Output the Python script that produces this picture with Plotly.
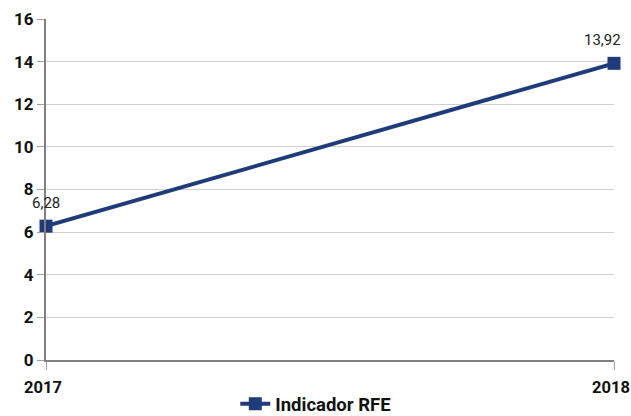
import plotly.graph_objects as go

years = [2017, 2018]
values = [6.28, 13.92]
series_name = "Indicador RFE"
y_ticks = [0, 2, 4, 6, 8, 10, 12, 14, 16]
label_xshift = [0, -12]

color = "#1F3B7A"

fig = go.Figure()
fig.add_trace(go.Scatter(
    x=years, y=values, name=series_name,
    mode="lines+markers",
    line=dict(color=color, width=4),
    marker=dict(symbol="square", size=13, color=color),
    cliponaxis=False,
))

for x, y, dx in zip(years, values, label_xshift):
    fig.add_annotation(
        x=x, y=y, text=f"{y:.2f}".replace(".", ","),
        showarrow=False, yshift=23, xshift=dx,
        font=dict(family="Roboto", size=15, color="#222222"),
    )

tickfont = dict(family="Roboto", size=17, color="#111111", weight="bold")
xtickfont = dict(family="Roboto", size=16.5, color="#111111", weight="bold")

fig.update_layout(
    width=631, height=416,
    margin=dict(l=46, r=17, t=19, b=56, autoexpand=False),
    paper_bgcolor="white", plot_bgcolor="white",
    separators=", ",
    showlegend=True,
    legend=dict(orientation="h", x=0.475, xanchor="center", y=-0.13, yanchor="middle",
                font=dict(family="Roboto", size=18.5, color="#111111", weight="bold")),
    xaxis=dict(
        range=[2017, 2018], tickvals=years, ticktext=[str(y) for y in years],
        showgrid=True, gridcolor="#D0D0D0", gridwidth=1,
        showline=True, linecolor="#808080", linewidth=2,
        ticks="outside", ticklen=8, tickcolor="#A0A0A0",
        tickfont=xtickfont, ticklabelstandoff=3, ticklabeloverflow="allow",
        ticklabelshift=-3,
        zeroline=False, automargin=False,
    ),
    yaxis=dict(
        range=[0, 16], tickvals=y_ticks,
        showgrid=True, gridcolor="#D0D0D0", gridwidth=1,
        showline=True, linecolor="#808080", linewidth=2,
        ticks="outside", ticklen=7, tickcolor="#A0A0A0",
        tickfont=tickfont,
        zeroline=False, automargin=False,
    ),
)

fig.write_html("out.html", config={"displayModeBar": False},
               post_script="document.body.style.margin='0';document.body.style.overflow='hidden';")
